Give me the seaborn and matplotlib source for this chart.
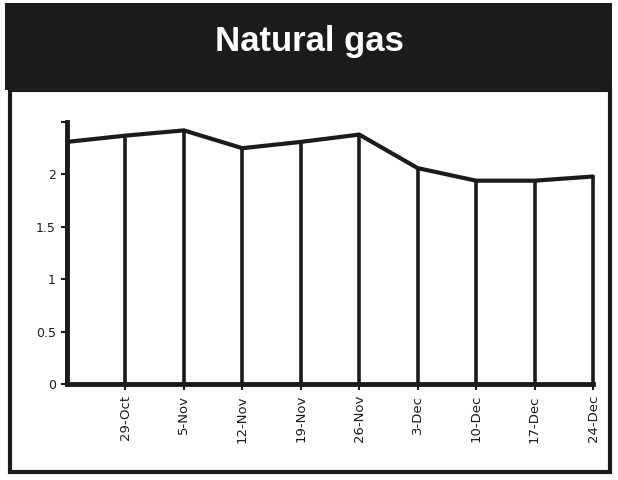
import matplotlib
matplotlib.use("Agg")
import matplotlib.pyplot as plt
from matplotlib.patches import Rectangle
import seaborn as sns
import pandas as pd

# weekly natural gas values, first week (22-Oct) sits on the y-axis
weeks = ["22-Oct", "29-Oct", "5-Nov", "12-Nov", "19-Nov", "26-Nov",
         "3-Dec", "10-Dec", "17-Dec", "24-Dec"]
prices = [2.31, 2.37, 2.42, 2.25, 2.31, 2.38, 2.06, 1.94, 1.94, 1.98]
y_ticks = [0, 0.5, 1, 1.5, 2, 2.5]
y_labels = ["0", "0.5", "1", "1.5", "2", ""]

df = pd.DataFrame({"pos": range(len(weeks)), "week": weeks, "price": prices})

sns.set_style("white")
plt.rcParams["font.family"] = ["DejaVu Sans"]

fig = plt.figure(figsize=(6.18, 4.80), dpi=100)

# black header band and framed panel (behind the axes)
fig.patches.append(Rectangle((5 / 618, 1 - 90 / 480), 607 / 618, 87 / 480,
                             transform=fig.transFigure, facecolor="#1b1b1b",
                             edgecolor="none", zorder=-2))
fig.patches.append(Rectangle((10 / 618, 1 - 472 / 480), 600 / 618, 382 / 480,
                             transform=fig.transFigure, facecolor="white",
                             edgecolor="#1b1b1b", linewidth=3, zorder=-1))
fig.text(0.5, 1 - 42 / 480, "Natural gas", color="white", fontsize=25,
         fontweight="bold", ha="center", va="center",
         family=["Liberation Sans", "DejaVu Sans"])

ax = fig.add_axes([67 / 618, 1 - 384 / 480, 526 / 618, 262 / 480])
ax.patch.set_alpha(0)

sns.lineplot(data=df, x="pos", y="price", ax=ax, color="#1b1b1b",
             linewidth=3, solid_joinstyle="miter", clip_on=False)
ax.vlines(df["pos"], 0, df["price"], color="#1b1b1b", linewidth=2.6,
          clip_on=False)

ax.set_xlim(0, len(weeks) - 1)
ax.set_ylim(0, 2.5)
ax.set_xticks(df["pos"][1:])
ax.set_xticklabels(df["week"][1:], rotation=90, fontsize=9.5)
ax.set_yticks(y_ticks)
ax.set_yticklabels(y_labels, fontsize=9)
ax.set_xlabel("")
ax.set_ylabel("")

for side in ["top", "right"]:
    ax.spines[side].set_visible(False)
for side in ["left", "bottom"]:
    ax.spines[side].set_linewidth(3.5)
    ax.spines[side].set_color("#1b1b1b")
ax.tick_params(axis="both", which="both", direction="out", length=4,
               width=1.5, color="#1b1b1b", labelcolor="#1b1b1b", pad=4,
               bottom=True, left=True)
ax.tick_params(axis="x", pad=4)

fig.savefig("out.png", dpi=100)
plt.close(fig)
